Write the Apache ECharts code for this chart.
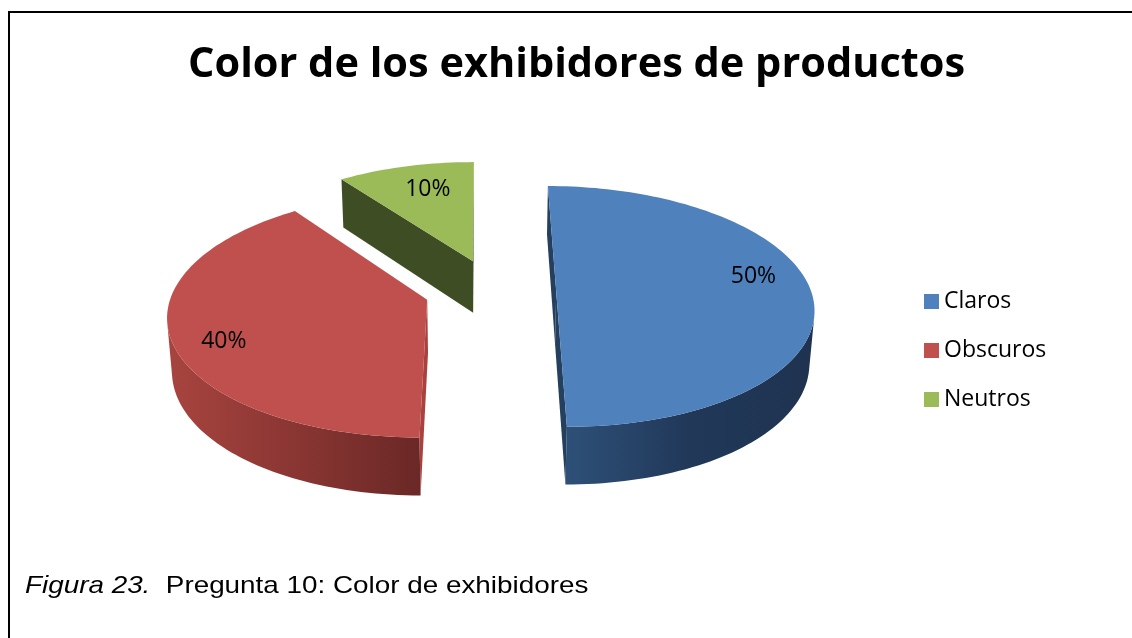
<!DOCTYPE html>
<html>
<head>
<meta charset="utf-8">
<script src="https://cdn.jsdelivr.net/npm/echarts@6/dist/echarts.min.js"></script>
<style>
  html, body { margin: 0; padding: 0; background: #ffffff; }
  #chart { width: 1132px; height: 638px; }
</style>
</head>
<body>
<div id="chart"></div>
<script>
// ---- data ----
const chartTitle = 'Color de los exhibidores de productos';
const categories = ['Claros', 'Obscuros', 'Neutros'];
const values = [50, 40, 10];
const captionLead = 'Figura 23.';
const captionText = 'Pregunta 10: Color de exhibidores';

// ---- look of the 3-D pie ----
const topColors = ['#4F81BD', '#C0504D', '#9BBB59'];
const wallStops = [
  ['#2E5078', '#213859', '#1F3350'],
  ['#A8443F', '#8A3633', '#6A2826'],
  ['#5A6E33', '#4A5B2A', '#3E4C23']
];
const cutColors = ['#25405F', '#A9413F', '#3F4D24'];
const explodeDist = [0.295, 0.22, 0.265];
const explodeTurn = [0, 0, 11];
const labelRadius = [0.8, 0.82, 0.73];
const labelTurn = [-9, -6, 2];

// perspective camera looking down at the pie plane
const view = { cx: 481, cy: 291.5, f: 1818, dist: 7.13, tilt: 27.7 * Math.PI / 180, thick: 0.237 };
const cosT = Math.cos(view.tilt), sinT = Math.sin(view.tilt);
const camera = [0, -view.dist * cosT, view.dist * sinT];

function project(X, Y, Z) {
  const w = view.dist + Y * cosT - Z * sinT;
  return [view.cx + view.f * X / w, view.cy + view.f * (-Y * sinT - Z * cosT) / w];
}
function depthOf(X, Y, Z) { return view.dist + Y * cosT - Z * sinT; }
const rad = d => d * Math.PI / 180;

const total = values.reduce((a, b) => a + b, 0);

function sliceGeom(i) {
  const before = values.slice(0, i).reduce((a, b) => a + b, 0);
  const a0 = before / total * 360;
  const a1 = (before + values[i]) / total * 360;
  const mid = (a0 + a1) / 2;
  const dir = rad(mid + explodeTurn[i]);
  const ex = explodeDist[i] * Math.sin(dir);
  const ey = explodeDist[i] * Math.cos(dir);
  return { a0, a1, mid, ex, ey };
}

// painter order: farthest slice first
const order = categories.map((_, i) => {
  const g = sliceGeom(i);
  return { i, d: depthOf(g.ex, g.ey, 0) };
}).sort((p, q) => q.d - p.d).map(o => o.i);

function visible(nx, ny, p) {
  return nx * (camera[0] - p[0]) + ny * (camera[1] - p[1]) > 0;
}

function renderSlice(i) {
  const g = sliceGeom(i);
  const h = view.thick;
  const rank = order.indexOf(i);
  const base = 10 + rank * 10;
  const children = [];
  const n = Math.max(2, Math.ceil((g.a1 - g.a0) / 1.5));
  const arc = [];
  for (let k = 0; k <= n; k++) {
    const t = rad(g.a0 + (g.a1 - g.a0) * k / n);
    arc.push([g.ex + Math.sin(t), g.ey + Math.cos(t)]);
  }

  // outer curved wall, only the part facing the camera
  let run = [];
  const flush = () => {
    if (run.length > 1) {
      const pts = run.map(p => project(p[0], p[1], 0))
        .concat(run.slice().reverse().map(p => project(p[0], p[1], -h)));
      const st = wallStops[i];
      children.push({
        type: 'polygon', z2: base,
        shape: { points: pts },
        style: {
          fill: new echarts.graphic.LinearGradient(0, 0, 1, 0, [
            { offset: 0, color: st[0] }, { offset: 0.5, color: st[1] }, { offset: 1, color: st[2] }
          ]),
          stroke: null
        }
      });
    }
    run = [];
  };
  for (let k = 0; k < n; k++) {
    const tm = rad(g.a0 + (g.a1 - g.a0) * (k + 0.5) / n);
    const p = [g.ex + Math.sin(tm), g.ey + Math.cos(tm)];
    if (visible(Math.sin(tm), Math.cos(tm), p)) {
      if (run.length === 0) run.push(arc[k]);
      run.push(arc[k + 1]);
    } else {
      flush();
    }
  }
  flush();

  // flat cut faces on both radial edges
  const edges = [
    { t: rad(g.a0), nx: -Math.cos(rad(g.a0)), ny: Math.sin(rad(g.a0)) },
    { t: rad(g.a1), nx: Math.cos(rad(g.a1)), ny: -Math.sin(rad(g.a1)) }
  ];
  edges.forEach(e => {
    const ox = g.ex + Math.sin(e.t), oy = g.ey + Math.cos(e.t);
    const m = [(g.ex + ox) / 2, (g.ey + oy) / 2];
    if (visible(e.nx, e.ny, m)) {
      children.push({
        type: 'polygon', z2: base + 1,
        shape: { points: [
          project(g.ex, g.ey, 0), project(ox, oy, 0),
          project(ox, oy, -h), project(g.ex, g.ey, -h)
        ] },
        style: { fill: cutColors[i], stroke: null }
      });
    }
  });

  // top face
  children.push({
    type: 'polygon', z2: base + 5,
    shape: { points: [project(g.ex, g.ey, 0)].concat(arc.map(p => project(p[0], p[1], 0))) },
    style: { fill: topColors[i], stroke: null }
  });

  // percentage label
  const lt = rad(g.mid + labelTurn[i]);
  const lr = labelRadius[i];
  const lp = project(g.ex + lr * Math.sin(lt), g.ey + lr * Math.cos(lt), 0);
  children.push({
    type: 'text', z2: 200,
    style: {
      text: Math.round(values[i] / total * 100) + '%',
      x: lp[0], y: lp[1],
      align: 'center', verticalAlign: 'middle',
      fontFamily: 'Open Sans', fontSize: 23, fill: '#000000'
    }
  });
  return { type: 'group', children };
}

const chart = echarts.init(document.getElementById('chart'), null, { renderer: 'canvas' });

chart.setOption({
  animation: false,
  backgroundColor: '#ffffff',
  title: {
    text: chartTitle,
    left: 183,
    top: 39,
    textStyle: { fontFamily: 'Open Sans', fontWeight: 'bold', fontSize: 41.5, color: '#000000' }
  },
  legend: {
    orient: 'vertical',
    left: 919,
    top: 285,
    icon: 'rect',
    itemWidth: 15,
    itemHeight: 15,
    itemGap: 26,
    textStyle: { fontFamily: 'Open Sans', fontSize: 23, color: '#000000' },
    data: categories
  },
  graphic: [
    {
      type: 'polyline',
      shape: { points: [[9, 640], [9, 12], [1134, 12]] },
      style: { stroke: '#000000', lineWidth: 2, fill: null }
    },
    {
      type: 'text',
      left: 25,
      top: 574,
      scaleX: 1.16,
      style: {
        text: '{i|' + captionLead + '}  ' + captionText,
        fontFamily: 'Liberation Sans', fontSize: 24, fill: '#000000',
        rich: { i: { fontStyle: 'italic', fontFamily: 'Liberation Sans', fontSize: 24 } }
      }
    }
  ],
  series: categories.map((name, i) => ({
    type: 'custom',
    name: name,
    coordinateSystem: 'none',
    itemStyle: { color: topColors[i] },
    data: [[values[i]]],
    renderItem: () => renderSlice(i)
  }))
});
</script>
</body>
</html>
